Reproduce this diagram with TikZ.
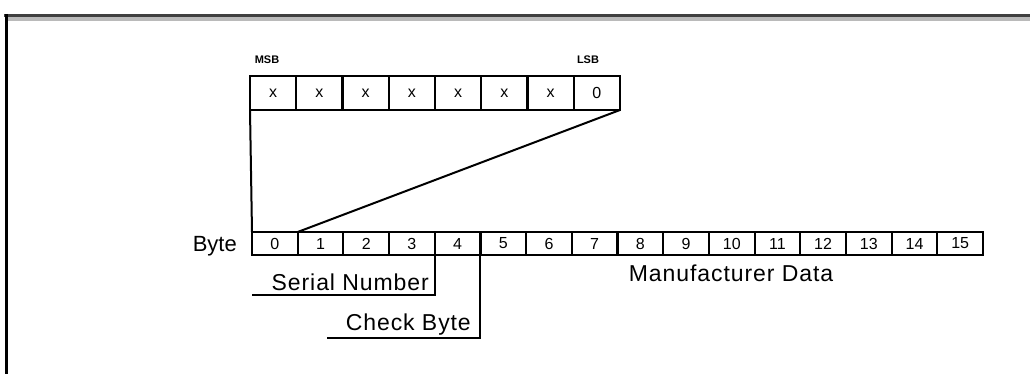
\documentclass[tikz,border=0pt]{standalone}
\usepackage{fontspec}
\setmainfont{Liberation Sans}
\begin{document}
\begin{tikzpicture}[x=1pt,y=-1pt,
  line/.style={line width=2pt, black},
  regcell/.style={draw, line width=2.2pt, minimum width=46.25pt, minimum height=34pt, inner sep=0pt, outer sep=0pt, font=\fontsize{16}{18}\selectfont},
  bytecell/.style={draw, line width=2.2pt, minimum width=45.69pt, minimum height=23pt, inner sep=0pt, outer sep=0pt, font=\fontsize{16}{18}\selectfont},
  lbl/.style={inner sep=0pt, font=\fontsize{23}{26}\selectfont\addfontfeatures{LetterSpace=4}},
  bytestyle/.style={inner sep=0pt, font=\fontsize{22}{26}\selectfont},
  smalllbl/.style={inner sep=0pt, font=\bfseries\fontsize{11}{12}\selectfont}]
\useasboundingbox (0,0) rectangle (1030,374);
% frame
\draw[line width=3pt, black!75] (4,15.5) -- (1030,15.5);
\draw[line width=3.5pt, black!27] (6,19) -- (1030,19);
\draw[line width=3pt, black] (6,14) -- (6,374);
% upper register
\foreach \i/\t in {0/x,1/x,2/x,3/x,4/x,5/x,6/x,7/0}
  \node[regcell] (r\i) at ({250+46.25*\i+23.125}, 93) {\t};
\node[smalllbl] (msb) at (267,60) {MSB};
\node[smalllbl] (lsb) at (588,60) {LSB};
% byte row
\foreach \i in {0,...,15}
  \node[bytecell] (b\i) at ({252+45.69*\i+22.845}, 243.5) {\i};
\node[bytestyle, anchor=base east] (bytelbl) at (237,251) {Byte};
% connectors register -> byte 0
\draw[line] (r0.south west) -- (b0.north west);
\draw[line] (r7.south east) -- (b0.north east);
% labels
\coordinate (sn) at (252,295);
\coordinate (cb) at (327,338);
\draw[line] (b3.south east) |- (sn);
\draw[line] (b4.south east) |- (cb);
\node[lbl, anchor=base east] (snl) at (429,290) {Serial Number};
\node[lbl, anchor=base east] (cbl) at (471,330) {Check Byte};
\node[lbl, anchor=base] (mfd) at (731,281) {Manufacturer Data};
\end{tikzpicture}
\end{document}
